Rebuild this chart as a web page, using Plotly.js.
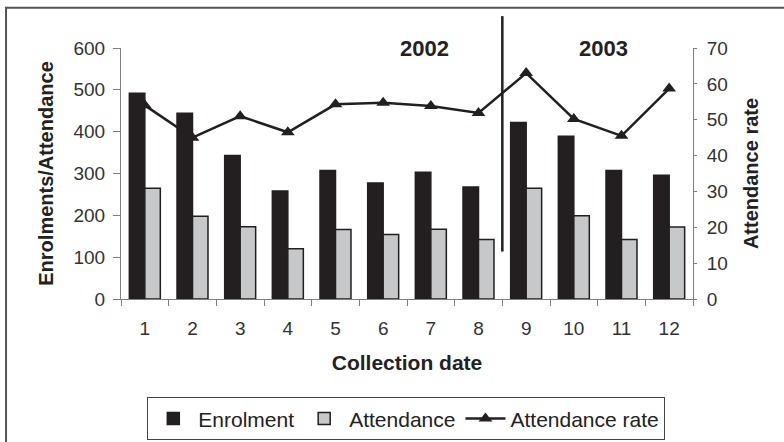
<!DOCTYPE html>
<html>
<head>
<meta charset="utf-8">
<script src="https://cdn.plot.ly/plotly-3.0.1.min.js"></script>
<style>
  html, body { margin: 0; padding: 0; background: #fff; }
  #chart { width: 784px; height: 442px; }
</style>
</head>
<body>
<div id="chart"></div>
<script>
// ---- data ----
const categories = ['1', '2', '3', '4', '5', '6', '7', '8', '9', '10', '11', '12'];
const enrolment = [492, 444, 343, 258, 307, 277, 303, 268, 422, 389, 307, 296];
const attendance = [265, 198, 173, 120, 166, 154, 167, 142, 265, 199, 142, 172];
const attendanceRate = [54, 45, 51, 46.5, 54.3, 54.7, 53.8, 51.9, 63, 50.2, 45.5, 58.7];
const seriesNames = ['Enrolment', 'Attendance', 'Attendance rate'];
const yearLabels = ['2002', '2003'];

const FONT = 'Liberation Sans, Arial, sans-serif';
const INK = '#231f20';
const AXIS = '#808080';

const traces = [
  {
    type: 'bar', name: seriesNames[0], x: categories, y: enrolment,
    marker: { color: INK, line: { color: INK, width: 1.5 } },
    yaxis: 'y'
  },
  {
    type: 'bar', name: seriesNames[1], x: categories, y: attendance,
    marker: { color: '#c6c8ca', line: { color: INK, width: 1.5 } },
    yaxis: 'y'
  },
  {
    type: 'scatter', mode: 'lines+markers', name: seriesNames[2],
    x: categories, y: attendanceRate, yaxis: 'y2',
    line: { color: INK, width: 2.5 },
    marker: { symbol: 'triangle-up', size: 12, color: INK }
  }
];

const tickFont = { family: FONT, size: 19, color: '#333' };
const titleFont = { family: FONT, size: 20, color: '#222', weight: 'bold' };

const layout = {
  width: 784, height: 442,
  margin: { l: 121, r: 91, t: 48, b: 143, autoexpand: false },
  paper_bgcolor: '#fff', plot_bgcolor: '#fff',
  barmode: 'group', bargap: 0.35, bargroupgap: 0,
  showlegend: true,
  legend: {
    orientation: 'h', x: 0.046, xanchor: 'left', y: -0.392, yanchor: 'top',
    font: { family: FONT, size: 21, color: '#222' },
    bordercolor: '#444', borderwidth: 1, itemwidth: 40,
    traceorder: 'normal'
  },
  xaxis: {
    type: 'category', range: [-0.5, 11.5],
    showline: true, linecolor: AXIS, linewidth: 1,
    ticks: 'outside', tickson: 'boundaries', ticklen: 6, tickcolor: AXIS,
    tickfont: tickFont, ticklabelstandoff: 12, showgrid: false, zeroline: false,
    title: { text: 'Collection date', font: { family: FONT, size: 21, color: '#222', weight: 'bold' }, standoff: 17 }
  },
  xaxis2: {
    type: 'linear', overlaying: 'x', range: [-0.5, 11.5], tick0: -0.5, dtick: 1,
    ticks: 'inside', ticklen: 6, tickcolor: AXIS, showticklabels: false,
    showline: false, showgrid: false, zeroline: false, anchor: 'y'
  },
  yaxis: {
    range: [0, 600], dtick: 100, showline: true, linecolor: AXIS, linewidth: 1,
    ticks: 'outside', ticklen: 7, tickcolor: AXIS, tickfont: tickFont,
    ticklabelstandoff: 4, showgrid: false, zeroline: false,
    title: { text: 'Enrolments/Attendance', font: titleFont, standoff: 14 }
  },
  yaxis3: {
    range: [0, 600], dtick: 100, overlaying: 'y', side: 'left', anchor: 'x',
    ticks: 'inside', ticklen: 7, tickcolor: AXIS, showticklabels: false,
    showline: false, showgrid: false, zeroline: false
  },
  yaxis2: {
    range: [0, 70], dtick: 10, overlaying: 'y', side: 'right', anchor: 'x',
    showline: true, linecolor: AXIS, linewidth: 1,
    ticks: 'outside', ticklen: 3, tickcolor: AXIS, tickfont: tickFont,
    ticklabelstandoff: 6, showgrid: false, zeroline: false,
    title: { text: 'Attendance rate', font: titleFont, standoff: 17 }
  },
  yaxis4: {
    range: [0, 70], dtick: 10, overlaying: 'y', side: 'right', anchor: 'x',
    ticks: 'inside', ticklen: 8, tickcolor: AXIS, showticklabels: false,
    showline: false, showgrid: false, zeroline: false
  },
  shapes: [
    { type: 'rect', xref: 'paper', yref: 'paper', x0: -0.201, x1: 1.2, y0: -0.62, y1: 1.16,
      line: { color: '#555', width: 2 }, fillcolor: 'rgba(0,0,0,0)', layer: 'below' },
    { type: 'line', xref: 'x', yref: 'paper', x0: 7.5, x1: 7.5, y0: 0.189, y1: 1.127,
      line: { color: INK, width: 2.5 } }
  ],
  annotations: [
    { text: yearLabels[0], xref: 'paper', yref: 'paper', x: 0.531, y: 0.998,
      xanchor: 'center', yanchor: 'middle',
      showarrow: false, font: { family: FONT, size: 22, color: '#222', weight: 'bold' } },
    { text: yearLabels[1], xref: 'paper', yref: 'paper', x: 0.844, y: 0.998,
      xanchor: 'center', yanchor: 'middle',
      showarrow: false, font: { family: FONT, size: 22, color: '#222', weight: 'bold' } }
  ]
};

Plotly.newPlot('chart', traces, layout, { displayModeBar: false, staticPlot: true });
</script>
</body>
</html>
